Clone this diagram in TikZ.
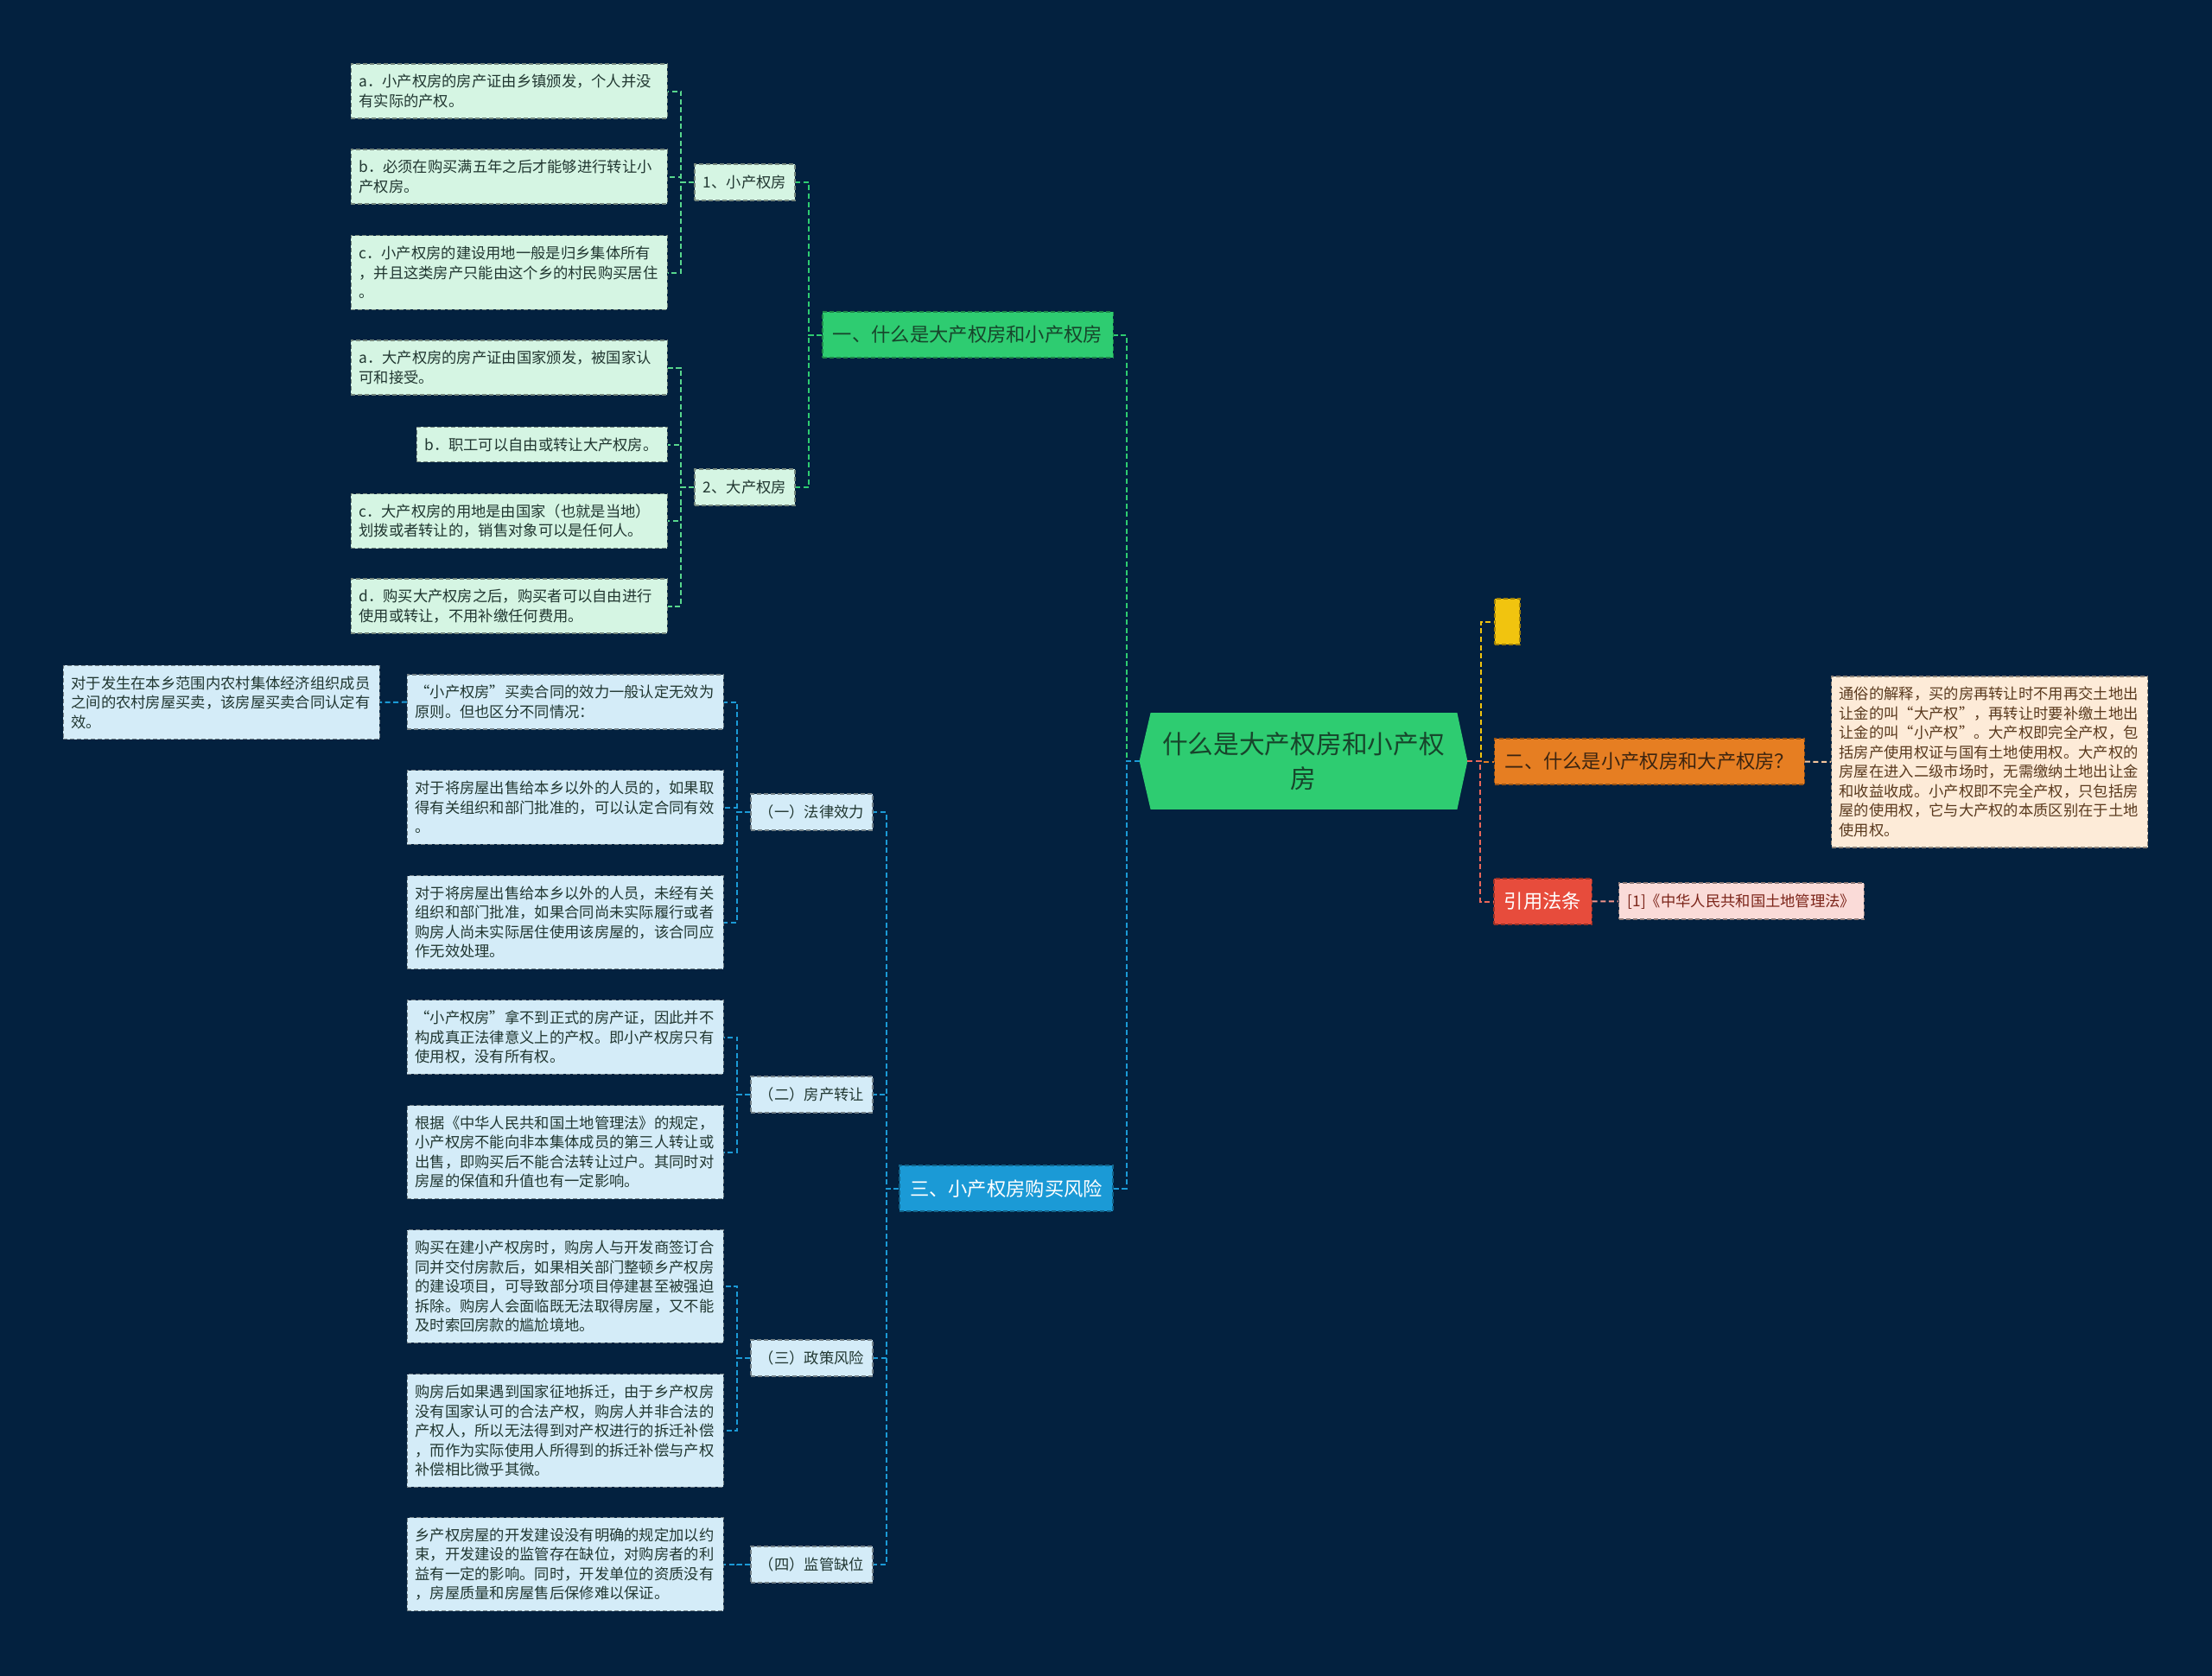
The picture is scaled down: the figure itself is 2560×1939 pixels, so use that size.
\documentclass[tikz,border=0pt]{standalone}
\usepackage{fontspec}
\setmainfont{Noto Sans CJK SC}
\usepackage{tikz}
\usetikzlibrary{calc, backgrounds}
\definecolor{cNight}{HTML}{03213F}
\definecolor{cGreen}{HTML}{2ECC71}
\definecolor{cGreenInk}{HTML}{17452B}
\definecolor{cMint}{HTML}{D5F5E3}
\definecolor{cBlue}{HTML}{1B9AD6}
\definecolor{cIce}{HTML}{D4ECF8}
\definecolor{cInk}{HTML}{213731}
\definecolor{cYellow}{HTML}{F1C40F}
\definecolor{cOrange}{HTML}{E67E22}
\definecolor{cBrown}{HTML}{3B2410}
\definecolor{cPeach}{HTML}{FDEBD8}
\definecolor{cPeachInk}{HTML}{5A3A1E}
\definecolor{cRed}{HTML}{E74C3C}
\definecolor{cRose}{HTML}{FADBD8}
\definecolor{cRoseInk}{HTML}{7B2419}
% struts that keep CJK glyphs centred in their line
\newcommand{\leafstrut}{\rule[-2.34pt]{0pt}{11.25pt}}
\newcommand{\topicstrut}{\rule[-2.76pt]{0pt}{14pt}}

\begin{document}
\begin{tikzpicture}[
  x=0.5pt, y=-0.5pt,
  leaf/.style={rectangle, fill=#1, draw=#1!55!black, dash pattern=on 2.5pt off 1.5pt,
               line width=0.6pt, text=cInk, font=\fontsize{8.65pt}{11.25pt}\selectfont,
               align=left, text width=174pt, inner xsep=4.5pt, inner ysep=4.5pt,
               execute at begin node=\leafstrut, execute at end node=\leafstrut},
  sub/.style={rectangle, fill=#1, draw=#1!55!black, dash pattern=on 2.5pt off 1.5pt,
              line width=0.6pt, text=cInk, font=\fontsize{8.65pt}{11.25pt}\selectfont,
              inner xsep=5pt, inner ysep=4.9pt, execute at begin node=\leafstrut},
  topic/.style={rectangle, fill=#1, draw=#1!65!black, dash pattern=on 2.5pt off 1.5pt,
                line width=0.6pt, font=\fontsize{11.15pt}{14pt}\selectfont,
                inner xsep=6pt, inner ysep=6.25pt, execute at begin node=\topicstrut},
  hub/.style={text=cGreenInk, font=\fontsize{14.85pt}{20pt}\selectfont, align=center,
              minimum width=189.5pt, minimum height=55.5pt, inner sep=0pt},
  link/.style={draw=#1, line width=1pt, dash pattern=on 3pt off 1.8pt},
  elbow/.style={to path={-| ($(\tikztostart)!.5!(\tikztotarget)$) |- (\tikztotarget)}},
]

% Canvas
\useasboundingbox (0,0) rectangle (2560,1939);
\begin{scope}[on background layer]
  \fill[cNight] (-10,-10) rectangle (2570,1949);
\end{scope}

% Centre
\node[hub] (hub) at (1508.5,881) {什么是大产权房和小产权\\房};
\begin{scope}[on background layer]
  \fill[cGreen] (hub.west) -- ($(hub.north west)+(6.5pt,0)$) -- ($(hub.north east)+(-6pt,0)$)
    -- (hub.east) -- ($(hub.south east)+(-6pt,0)$) -- ($(hub.south west)+(6.5pt,0)$) -- cycle;
\end{scope}

% Topics
\node[topic=cGreen, text=cGreenInk] (qOne) at (1120,387.5) {一、什么是大产权房和小产权房};
\node[topic=cBlue, text=white] (qThree) at (1164.5,1375.5) {三、小产权房购买风险};
\node[topic=cYellow, minimum width=14.5pt, minimum height=26.5pt, inner sep=0pt,
      execute at begin node={}] (blank) at (1744.5,719.5) {};
\node[topic=cOrange, text=cBrown] (qTwo) at (1909,881.5) {二、什么是小产权房和大产权房？};
\node[topic=cRed, text=white] (cite) at (1785.5,1043.5) {引用法条};

% Branch one
\node[sub=cMint] (sSmall) at (862,211) {1、小产权房};
\node[sub=cMint] (sBig) at (862,564) {2、大产权房};

\node[leaf=cMint, anchor=east] (smallA) at (773,105.5)
  {a．小产权房的房产证由乡镇颁发，个人并没\\有实际的产权。};
\node[leaf=cMint, anchor=east] (smallB) at (773,204.5)
  {b．必须在购买满五年之后才能够进行转让小\\产权房。};
\node[leaf=cMint, anchor=east] (smallC) at (773,315.5)
  {c．小产权房的建设用地一般是归乡集体所有\\，并且这类房产只能由这个乡的村民购买居住\\。};
\node[leaf=cMint, anchor=east] (bigA) at (773,425.5)
  {a．大产权房的房产证由国家颁发，被国家认\\可和接受。};
\node[leaf=cMint, anchor=east, text width=136pt] (bigB) at (773,514.5)
  {b．职工可以自由或转让大产权房。};
\node[leaf=cMint, anchor=east] (bigC) at (773,603)
  {c．大产权房的用地是由国家（也就是当地）\\划拨或者转让的，销售对象可以是任何人。};
\node[leaf=cMint, anchor=east] (bigD) at (773,701.5)
  {d．购买大产权房之后，购买者可以自由进行\\使用或转让，不用补缴任何费用。};

% Branch three
\node[sub=cIce] (rLaw) at (939.5,940) {（一）法律效力};
\node[sub=cIce] (rTransfer) at (939.5,1267) {（二）房产转让};
\node[sub=cIce] (rPolicy) at (939.5,1572) {（三）政策风险};
\node[sub=cIce] (rWatch) at (939.5,1811) {（四）监管缺位};

\node[leaf=cIce, anchor=east] (lawA) at (838,812.5)
  {“小产权房”买卖合同的效力一般认定无效为\\原则。但也区分不同情况：};
\node[leaf=cIce, anchor=east] (lawAA) at (440,813)
  {对于发生在本乡范围内农村集体经济组织成员\\之间的农村房屋买卖，该房屋买卖合同认定有\\效。};
\node[leaf=cIce, anchor=east] (lawB) at (838,934.5)
  {对于将房屋出售给本乡以外的人员的，如果取\\得有关组织和部门批准的，可以认定合同有效\\。};
\node[leaf=cIce, anchor=east] (lawC) at (838,1067.5)
  {对于将房屋出售给本乡以外的人员，未经有关\\组织和部门批准，如果合同尚未实际履行或者\\购房人尚未实际居住使用该房屋的，该合同应\\作无效处理。};
\node[leaf=cIce, anchor=east] (transA) at (838,1200.5)
  {“小产权房”拿不到正式的房产证，因此并不\\构成真正法律意义上的产权。即小产权房只有\\使用权，没有所有权。};
\node[leaf=cIce, anchor=east] (transB) at (838,1333.5)
  {根据《中华人民共和国土地管理法》的规定，\\小产权房不能向非本集体成员的第三人转让或\\出售，即购买后不能合法转让过户。其同时对\\房屋的保值和升值也有一定影响。};
\node[leaf=cIce, anchor=east] (policyA) at (838,1489)
  {购买在建小产权房时，购房人与开发商签订合\\同并交付房款后，如果相关部门整顿乡产权房\\的建设项目，可导致部分项目停建甚至被强迫\\拆除。购房人会面临既无法取得房屋，又不能\\及时索回房款的尴尬境地。};
\node[leaf=cIce, anchor=east] (policyB) at (838,1656)
  {购房后如果遇到国家征地拆迁，由于乡产权房\\没有国家认可的合法产权，购房人并非合法的\\产权人，所以无法得到对产权进行的拆迁补偿\\，而作为实际使用人所得到的拆迁补偿与产权\\补偿相比微乎其微。};
\node[leaf=cIce, anchor=east] (watchA) at (838,1810.5)
  {乡产权房屋的开发建设没有明确的规定加以约\\束，开发建设的监管存在缺位，对购房者的利\\益有一定的影响。同时，开发单位的资质没有\\，房屋质量和房屋售后保修难以保证。};

% Right side
\node[leaf=cPeach, anchor=west, text=cPeachInk] (plain) at (2119,882)
  {通俗的解释，买的房再转让时不用再交土地出\\让金的叫“大产权”，再转让时要补缴土地出\\让金的叫“小产权”。大产权即完全产权，包\\括房产使用权证与国有土地使用权。大产权的\\房屋在进入二级市场时，无需缴纳土地出让金\\和收益收成。小产权即不完全产权，只包括房\\屋的使用权，它与大产权的本质区别在于土地\\使用权。};
\node[sub=cRose, anchor=west, text=cRoseInk] (citeRef) at (1873,1043)
  {[1]《中华人民共和国土地管理法》};

% Links
\draw[link=cGreen] (hub.west) to[elbow] (qOne.east);
\draw[link=cBlue] (hub.west) to[elbow] (qThree.east);
\draw[link=cYellow] (hub.east) to[elbow] (blank.west);
\draw[link=cOrange] (hub.east) to[elbow] (qTwo.west);
\draw[link=cRed!85] (hub.east) to[elbow] (cite.west);
\draw[link=cOrange!45] (qTwo) -- (plain);
\draw[link=cRed!60] (cite) -- (citeRef);

\draw[link=cGreen] (qOne.west) to[elbow] (sSmall.east);
\draw[link=cGreen] (qOne.west) to[elbow] (sBig.east);
\draw[link=cGreen!80] (sSmall.west) to[elbow] (smallA.east);
\draw[link=cGreen!80] (sSmall.west) to[elbow] (smallB.east);
\draw[link=cGreen!80] (sSmall.west) to[elbow] (smallC.east);
\draw[link=cGreen!80] (sBig.west) to[elbow] (bigA.east);
\draw[link=cGreen!80] (sBig.west) to[elbow] (bigB.east);
\draw[link=cGreen!80] (sBig.west) to[elbow] (bigC.east);
\draw[link=cGreen!80] (sBig.west) to[elbow] (bigD.east);

\draw[link=cBlue] (qThree.west) to[elbow] (rLaw.east);
\draw[link=cBlue] (qThree.west) to[elbow] (rTransfer.east);
\draw[link=cBlue] (qThree.west) to[elbow] (rPolicy.east);
\draw[link=cBlue] (qThree.west) to[elbow] (rWatch.east);
\draw[link=cBlue] (rLaw.west) to[elbow] (lawA.east);
\draw[link=cBlue] (rLaw.west) to[elbow] (lawB.east);
\draw[link=cBlue] (rLaw.west) to[elbow] (lawC.east);
\draw[link=cBlue] (lawA) -- (lawAA);
\draw[link=cBlue] (rTransfer.west) to[elbow] (transA.east);
\draw[link=cBlue] (rTransfer.west) to[elbow] (transB.east);
\draw[link=cBlue] (rPolicy.west) to[elbow] (policyA.east);
\draw[link=cBlue] (rPolicy.west) to[elbow] (policyB.east);
\draw[link=cBlue] (rWatch.west) to[elbow] (watchA.east);

\end{tikzpicture}
\end{document}
